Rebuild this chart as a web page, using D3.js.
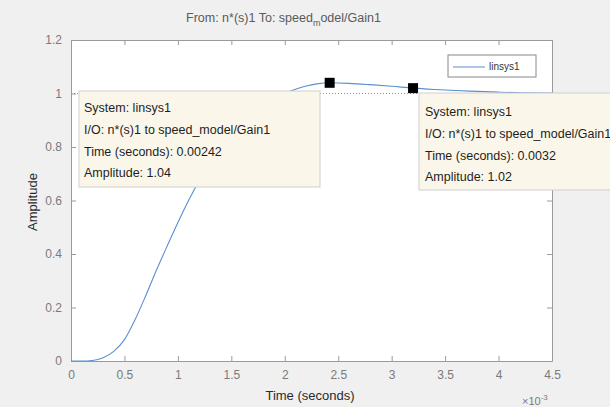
<!DOCTYPE html>
<html><head><meta charset="utf-8">
<script src="https://cdn.jsdelivr.net/npm/d3@7"></script>
<style>body{margin:0;background:#f0f0f0;}svg{display:block;font-family:"Liberation Sans",Arial,sans-serif;}</style>
</head><body><svg id="c" width="610" height="407"></svg>
<script>
// time in units of 1e-3 s
const timeMs = [0,0.1,0.2,0.3,0.4,0.5,0.6,0.7,0.8,0.9,1.0,1.1,1.2,1.3,1.4,1.5,1.6,1.7,1.8,1.9,2.0,2.1,2.2,2.3,2.42,2.6,2.8,3.0,3.2,3.4,3.6,3.8,4.0,4.2,4.5];
const amplitude = [0,0,0.002,0.012,0.036,0.08,0.155,0.245,0.34,0.43,0.518,0.6,0.675,0.742,0.8,0.85,0.892,0.927,0.956,0.98,1.0,1.016,1.028,1.036,1.04,1.038,1.033,1.027,1.02,1.015,1.011,1.008,1.005,1.003,1.002];
const xTicks = [0,0.5,1,1.5,2,2.5,3,3.5,4,4.5];
const yTicks = [0,0.2,0.4,0.6,0.8,1,1.2];
const steadyState = 1.0;
const tips = [
  {t:2.42, a:1.04, lines:["System: linsys1","I/O: n*(s)1 to speed_model/Gain1","Time (seconds): 0.00242","Amplitude: 1.04"]},
  {t:3.2, a:1.02, lines:["System: linsys1","I/O: n*(s)1 to speed_model/Gain1","Time (seconds): 0.0032","Amplitude: 1.02"]}
];

const svg = d3.select("#c");
const L=71,R=552,T=40,B=361;
const x = d3.scaleLinear().domain([0,4.5]).range([L,R]);
const y = d3.scaleLinear().domain([0,1.2]).range([B,T]);
const axisCol="#9a9a9a";

svg.append("rect").attr("x",L).attr("y",T).attr("width",R-L).attr("height",B-T).attr("fill","#fff");

const fmt = d=>String(d);
const gx = svg.append("g").attr("transform",`translate(0,${B})`).call(d3.axisBottom(x).tickValues(xTicks).tickFormat(fmt).tickSizeInner(-5).tickSizeOuter(0).tickPadding(9));
const gy = svg.append("g").attr("transform",`translate(${L},0)`).call(d3.axisLeft(y).tickValues(yTicks).tickFormat(fmt).tickSizeInner(-5).tickSizeOuter(0).tickPadding(9));
const gt = svg.append("g").attr("transform",`translate(0,${T})`).call(d3.axisTop(x).tickValues(xTicks).tickFormat("").tickSizeInner(-5).tickSizeOuter(0));
const gr = svg.append("g").attr("transform",`translate(${R},0)`).call(d3.axisRight(y).tickValues(yTicks).tickFormat("").tickSizeInner(-5).tickSizeOuter(0));
[gx,gy,gt,gr].forEach(g=>{
  g.selectAll("path,line").attr("stroke",axisCol);
  g.selectAll("text").attr("fill","#7a7a7a").style("font-size","12px").style("font-family","'Liberation Sans',Arial,sans-serif");
});

// steady-state dotted line
svg.append("line").attr("x1",L).attr("x2",R).attr("y1",y(steadyState)).attr("y2",y(steadyState))
  .attr("stroke","#8090b0").attr("stroke-width",1).attr("stroke-dasharray","1,2");

// response line
const line = d3.line().x((d,i)=>x(timeMs[i])).y(d=>y(d)).curve(d3.curveMonotoneX);
svg.append("path").datum(amplitude).attr("d",line).attr("fill","none").attr("stroke","#5b8fd0").attr("stroke-width",1.1);

// legend
svg.append("rect").attr("x",448).attr("y",55).attr("width",88).attr("height",22).attr("fill","#fff").attr("stroke","#888");
svg.append("line").attr("x1",453).attr("x2",485).attr("y1",67).attr("y2",67).attr("stroke","#5b8fd0");
svg.append("text").attr("x",489).attr("y",70).text("linsys1").attr("fill","#333").style("font-size","10px");

// datatips
const boxes=[{x:79,y:91,w:241,h:96,tx:84,ty:112},{x:419,y:93,w:200,h:97,tx:425,ty:116}];
tips.forEach((tp,i)=>{
  const b=boxes[i];
  svg.append("rect").attr("x",b.x).attr("y",b.y).attr("width",b.w).attr("height",b.h).attr("fill","#faf7ea").attr("stroke","#cfcfcf");
  tp.lines.forEach((s,j)=>{
    svg.append("text").attr("x",b.tx).attr("y",b.ty+j*21.8).text(s).attr("fill","#1e1e1e").style("font-size","12.5px");
  });
});
tips.forEach(tp=>{
  svg.append("rect").attr("x",x(tp.t)-5).attr("y",y(tp.a)-5).attr("width",10).attr("height",10).attr("fill","#000");
});

// title
const title = svg.append("text").attr("x",186).attr("y",22).attr("fill","#5a5a5a").style("font-size","12.5px");
title.append("tspan").text("From: n*(s)1  To: speed");
title.append("tspan").attr("dy",4).style("font-size","9px").text("m");
title.append("tspan").attr("dy",-4).text("odel/Gain1");

// axis labels
svg.append("text").attr("x",310).attr("y",400).attr("text-anchor","middle").attr("fill","#2a2a2a").style("font-size","13px").text("Time (seconds)");
svg.append("text").attr("transform","translate(37,202) rotate(-90)").attr("text-anchor","middle").attr("fill","#2a2a2a").style("font-size","13px").text("Amplitude");
const ex = svg.append("text").attr("x",522).attr("y",405).attr("fill","#7a7a7a").style("font-size","11px");
ex.append("tspan").text("×10");
ex.append("tspan").attr("dy",-5).style("font-size","8px").text("-3");
</script></body></html>
